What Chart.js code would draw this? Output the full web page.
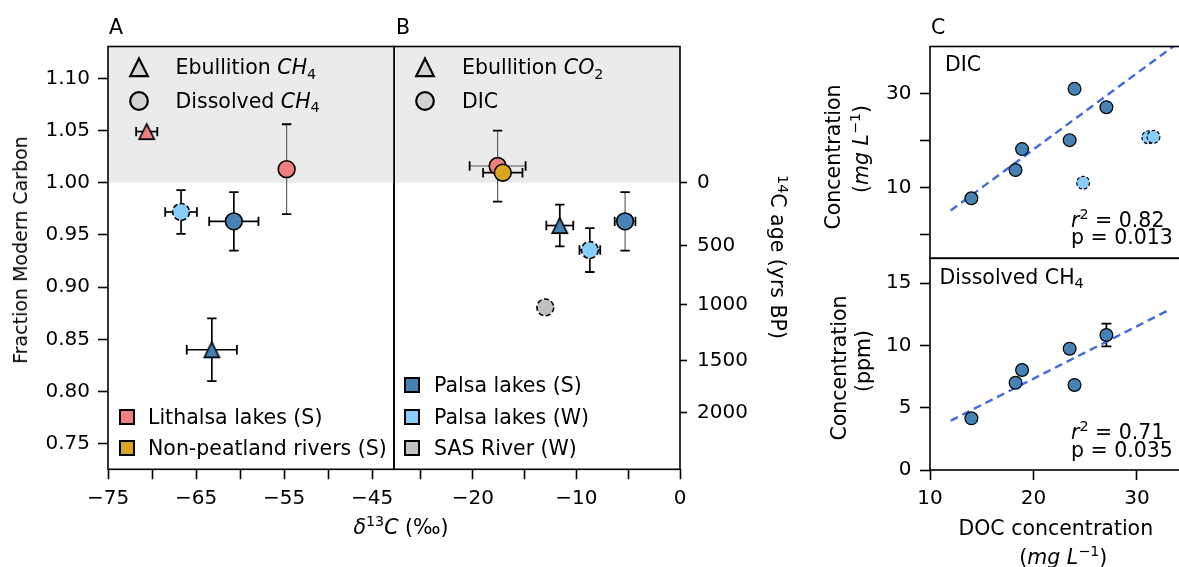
<!DOCTYPE html>
<html>
<head>
<meta charset="utf-8">
<script src="https://cdn.jsdelivr.net/npm/chart.js@4.4.1/dist/chart.umd.min.js"></script>
<style>
  html, body { margin: 0; padding: 0; background: #fff; overflow: hidden; }
  #fig { position: relative; width: 1179px; height: 567px; overflow: hidden; background: #fff;
         font-family: 'DejaVu Sans', sans-serif; color: #000; }
  #fig canvas { position: absolute; left: 0; top: 0; }
  #marks { position: absolute; left: 0; top: 0; }
  .t { position: absolute; white-space: nowrap; font-size: 20.5px; line-height: 24px; }
  .c { position: absolute; white-space: nowrap; font-size: 20.5px; line-height: 24px; transform: translate(-50%, -50%); }
  .up { transform: translate(-50%, -50%) rotate(-90deg); }
  .down { transform: translate(-50%, -50%) rotate(90deg); }
  sup { font-size: 70%; line-height: 0; vertical-align: 0; position: relative; top: -0.55em; font-style: normal; }
  sub { font-size: 70%; line-height: 0; vertical-align: 0; position: relative; top: 0.3em; font-style: normal; }
  .sq { position: absolute; width: 12px; height: 12px; border: 2px solid #000; }
</style>
</head>
<body>
<div id="fig">
  <!-- panel letters -->
  <div class="t" style="left:109px;top:15px">A</div>
  <div class="t" style="left:396px;top:15px">B</div>
  <div class="t" style="left:931px;top:15px">C</div>

  <!-- panel A legends -->
  <div class="t" style="left:175.5px;top:55.3px">Ebullition <i>CH</i><sub>4</sub></div>
  <div class="t" style="left:175.5px;top:89px">Dissolved <i>CH</i><sub>4</sub></div>
  <div class="sq" style="left:118.5px;top:408.7px;background:#f08080"></div>
  <div class="t" style="left:148px;top:404.7px">Lithalsa lakes (S)</div>
  <div class="sq" style="left:118.5px;top:440px;background:#daa520"></div>
  <div class="t" style="left:148px;top:436px">Non-peatland rivers (S)</div>

  <!-- panel B legends -->
  <div class="t" style="left:462px;top:55.3px">Ebullition <i>CO</i><sub>2</sub></div>
  <div class="t" style="left:462px;top:89px">DIC</div>
  <div class="sq" style="left:403.5px;top:377px;background:#4682b4"></div>
  <div class="t" style="left:434px;top:373px">Palsa lakes (S)</div>
  <div class="sq" style="left:403.5px;top:408.7px;background:#87cefa"></div>
  <div class="t" style="left:434px;top:404.7px">Palsa lakes (W)</div>
  <div class="sq" style="left:403.5px;top:440.3px;background:#c0c0c0"></div>
  <div class="t" style="left:434px;top:436.3px">SAS River (W)</div>

  <!-- axis titles, panels A/B -->
  <div class="c up" style="left:20px;top:250px;font-size:19px">Fraction Modern Carbon</div>
  <div class="c down" style="left:778px;top:257px"><sup style="top:-0.5em">14</sup>C age (yrs BP)</div>
  <div class="c" style="left:401px;top:527px"><i>δ</i><sup>13</sup><i>C</i> (‰)</div>

  <!-- panel C annotations -->
  <div class="t" style="left:945px;top:52px">DIC</div>
  <div class="t" style="left:939.5px;top:264.7px">Dissolved CH<sub>4</sub></div>
  <div class="t" style="left:1071px;top:208px"><i>r</i><sup>2</sup> = 0.82</div>
  <div class="t" style="left:1071px;top:225.3px">p = 0.013</div>
  <div class="t" style="left:1071px;top:419.7px"><i>r</i><sup>2</sup> = 0.71</div>
  <div class="t" style="left:1071px;top:437.7px">p = 0.035</div>

  <!-- axis titles, panel C -->
  <div class="c up" style="left:833.3px;top:156.7px">Concentration</div>
  <div class="c up" style="left:860.8px;top:149px">(<i>mg</i> <i>L</i><sup>−1</sup>)</div>
  <div class="c up" style="left:839.2px;top:368px">Concentration</div>
  <div class="c up" style="left:863.3px;top:361px">(ppm)</div>
  <div class="c" style="left:1055.8px;top:528px">DOC concentration</div>
  <div class="c" style="left:1063.3px;top:556.7px">(<i>mg</i> <i>L</i><sup>−1</sup>)</div>
</div>

<script>
// ---------------- data ----------------
// Radiocarbon content and δ13C of each carbon pool, one entry per site and pool
const isoSite = ['Lithalsa lakes (S)', 'Lithalsa lakes (S)', 'Palsa lakes (W)', 'Palsa lakes (S)', 'Palsa lakes (S)',
                 'Lithalsa lakes (S)', 'Non-peatland rivers (S)', 'Palsa lakes (S)', 'Palsa lakes (S)', 'Palsa lakes (W)', 'SAS River (W)'];
const isoPool = ['Ebullition CH4', 'Dissolved CH4', 'Dissolved CH4', 'Dissolved CH4', 'Ebullition CH4',
                 'DIC', 'DIC', 'Ebullition CO2', 'DIC', 'DIC', 'DIC'];
const d13C    = [-70.6, -54.7, -66.7, -60.7, -63.2, -17.6, -17.1, -11.6, -5.3, -8.7, -13.0];
const d13CErr = [1.2, 0, 1.8, 2.8, 2.85, 2.7, 1.9, 1.3, 1.0, 1.0, 0];
const fmc     = [1.049, 1.013, 0.972, 0.963, 0.840, 1.016, 1.0096, 0.959, 0.963, 0.9355, 0.8806];
const fmcErr  = [0, 0.043, 0.021, 0.028, 0.030, 0.034, 0, 0.020, 0.028, 0.021, 0];

// Tick values and labels
const aXTicks   = [-75, -70, -65, -60, -55, -50, -45];
const aXLabels  = ['−75', '', '−65', '', '−55', '', '−45'];
const bXTicks   = [-25, -20, -15, -10, -5, 0];
const bXLabels  = ['', '−20', '', '−10', '', '0'];
const fmcTicks  = [0.75, 0.80, 0.85, 0.90, 0.95, 1.00, 1.05, 1.10];
const fmcLabels = ['0.75', '0.80', '0.85', '0.90', '0.95', '1.00', '1.05', '1.10'];
const ageTicks  = [0, 500, 1000, 1500, 2000];

// Lake concentrations against DOC
const docS     = [14.0, 18.27, 18.9, 23.5, 23.97, 27.05];
const dicS     = [7.75, 13.76, 18.2, 20.1, 31.0, 27.1];
const docW     = [24.8, 31.1, 31.6];
const dicW     = [11.06, 20.7, 20.8];
const ch4S     = [4.15, 7.01, 8.03, 9.74, 6.83, 10.84];
const ch4SErr  = [0, 0, 0, 0, 0, 0.91];
const dicFitX  = [12.0, 34.3];
const dicFitY  = [5.15, 41.3];
const ch4FitX  = [12.0, 32.9];
const ch4FitY  = [3.96, 12.77];
const docTicks = [10, 20, 30];
const dicTicks = [0, 10, 20, 30];
const dicTickLabels = ['', '10', '', '30'];
const ch4Ticks = [0, 5, 10, 15];

// ---------------- styling ----------------
const siteFill = {
  'Lithalsa lakes (S)': '#f08080',
  'Non-peatland rivers (S)': '#daa520',
  'Palsa lakes (S)': '#4682b4',
  'Palsa lakes (W)': '#87cefa',
  'SAS River (W)': '#c0c0c0'
};
const thinBars = new Set(['Lithalsa lakes (S)|Dissolved CH4', 'Lithalsa lakes (S)|DIC', 'Palsa lakes (S)|DIC']);
const FONT = 'DejaVu Sans';
const TICK_SIZE = 20;
const FMC_MIN = 0.7255, FMC_MAX = 1.1305;
const TOP = 46.5, BOTTOM = 469.3;

Chart.defaults.font.family = FONT;
Chart.defaults.color = '#000';

function triangleMarker(fill, half, lw) {
  const s = Math.ceil(2 * half + 4 * lw) | 1;
  const c = document.createElement('canvas');
  c.width = s; c.height = s;
  const g = c.getContext('2d');
  const m = s / 2;
  g.beginPath();
  g.moveTo(m, m - half); g.lineTo(m + half, m + half); g.lineTo(m - half, m + half); g.closePath();
  g.fillStyle = fill; g.fill();
  g.lineWidth = lw; g.strokeStyle = '#000'; g.lineJoin = 'miter'; g.stroke();
  return c;
}

// linear axis with fixed tick list and a forced thickness so the plot area sits where wanted
function axis(position, min, max, tickVals, labels, thickness, o = {}) {
  return {
    type: 'linear', position, min, max,
    afterBuildTicks: s => { s.ticks = tickVals.map(v => ({ value: v })); },
    afterFit: s => { if (s.isHorizontal()) s.height = thickness; else s.width = thickness; },
    ticks: {
      display: !!labels, autoSkip: false, maxRotation: 0, minRotation: 0,
      padding: o.pad ?? 8, font: { family: FONT, size: TICK_SIZE }, color: '#000',
      callback: (v, i) => (labels ? labels[i] : '')
    },
    grid: { display: tickVals.length > 0, drawOnChartArea: false, drawTicks: true,
            tickLength: o.tick ?? 10, tickWidth: 1.6, tickColor: '#000' },
    border: { display: false }
  };
}

// ---------------- plugins ----------------
const shade = {
  id: 'shade',
  beforeDraw(chart, args, opts) {
    if (opts.above === undefined) return;
    const { ctx, chartArea: a } = chart;
    const y = chart.scales.y.getPixelForValue(opts.above);
    ctx.save();
    ctx.fillStyle = '#ebebeb';
    ctx.fillRect(a.left, a.top, a.right - a.left, y - a.top);
    ctx.restore();
  }
};

const errorBars = {
  id: 'errorBars',
  beforeDatasetsDraw(chart) {
    const ctx = chart.ctx, xs = chart.scales.x, ys = chart.scales.y;
    ctx.save();
    chart.data.datasets.forEach(ds => {
      const st = ds.errStyle;
      if (!st) return;
      ds.data.forEach(p => {
        const cx = xs.getPixelForValue(p.x), cy = ys.getPixelForValue(p.y);
        const bars = [];
        if (p.xErr) bars.push(['h', xs.getPixelForValue(p.x - p.xErr), cy, xs.getPixelForValue(p.x + p.xErr), cy]);
        if (p.yErr) bars.push(['v', cx, ys.getPixelForValue(p.y - p.yErr), cx, ys.getPixelForValue(p.y + p.yErr)]);
        bars.forEach(([dir, x1, y1, x2, y2]) => {
          ctx.strokeStyle = st.line; ctx.lineWidth = st.width;
          ctx.beginPath(); ctx.moveTo(x1, y1); ctx.lineTo(x2, y2); ctx.stroke();
          ctx.strokeStyle = '#000'; ctx.lineWidth = 1.8;
          const c = st.cap;
          ctx.beginPath();
          if (dir === 'h') {
            ctx.moveTo(x1, y1 - c); ctx.lineTo(x1, y1 + c);
            ctx.moveTo(x2, y2 - c); ctx.lineTo(x2, y2 + c);
          } else {
            ctx.moveTo(x1 - c, y1); ctx.lineTo(x1 + c, y1);
            ctx.moveTo(x2 - c, y2); ctx.lineTo(x2 + c, y2);
          }
          ctx.stroke();
        });
      });
    });
    ctx.restore();
  }
};

const edgeDash = {
  id: 'edgeDash',
  beforeDatasetDraw(chart, args) {
    const ds = chart.data.datasets[args.index];
    if (ds.dashedEdge) { chart.ctx.save(); chart.ctx.setLineDash(ds.dashedEdge); }
  },
  afterDatasetDraw(chart, args) {
    const ds = chart.data.datasets[args.index];
    if (ds.dashedEdge) chart.ctx.restore();
  }
};

const frame = {
  id: 'frame',
  afterDatasetsDraw(chart) {
    const { ctx, chartArea: a } = chart;
    ctx.save();
    ctx.strokeStyle = '#000'; ctx.lineWidth = 1.6;
    ctx.strokeRect(a.left, a.top, a.right - a.left, a.bottom - a.top);
    ctx.restore();
  }
};

// ---------------- helpers ----------------
const fig = document.getElementById('fig');
function newCanvas(w, h) {
  const c = document.createElement('canvas');
  c.width = w; c.height = h;
  c.style.width = w + 'px'; c.style.height = h + 'px';
  fig.insertBefore(c, fig.firstChild);
  return c;
}

function isotopeDatasets(keep) {
  const out = [];
  isoSite.forEach((site, i) => {
    if (!keep(isoPool[i])) return;
    const fill = siteFill[site];
    const ebullition = isoPool[i].startsWith('Ebullition');
    const thin = thinBars.has(site + '|' + isoPool[i]);
    out.push({
      label: site + ' – ' + isoPool[i],
      data: [{ x: d13C[i], y: fmc[i], xErr: d13CErr[i], yErr: fmcErr[i] }],
      pointStyle: ebullition ? triangleMarker(fill, 7.6, 1.6) : 'circle',
      pointRadius: 8.4,
      backgroundColor: fill,
      borderColor: '#000',
      borderWidth: 1.6,
      dashedEdge: site.endsWith('(W)') ? [5, 2.6] : null,
      errStyle: thin ? { line: '#555', width: 1.1, cap: 4.7 } : { line: '#000', width: 1.7, cap: 4.7 },
      order: -i
    });
  });
  return out;
}

const baseOpts = {
  responsive: false, animation: false, devicePixelRatio: 1,
  events: []
};

// ---------------- panel A: methane ----------------
new Chart(newCanvas(404, 567), {
  type: 'scatter',
  data: { datasets: isotopeDatasets(p => p.includes('CH4')) },
  options: {
    ...baseOpts,
    layout: { padding: { top: TOP, right: 10, left: 0, bottom: 0 } },
    plugins: { legend: { display: false }, tooltip: { enabled: false }, shade: { above: 1.0 } },
    scales: {
      x: axis('bottom', -75, -42.5, aXTicks, aXLabels, 567 - BOTTOM, { pad: 7 }),
      y: axis('left', FMC_MIN, FMC_MAX, fmcTicks, fmcLabels, 108, { pad: 8 })
    }
  },
  plugins: [shade, errorBars, edgeDash, frame]
});

// ---------------- panel B: DIC and CO2 ----------------
new Chart(newCanvas(800, 567), {
  type: 'scatter',
  data: { datasets: isotopeDatasets(p => !p.includes('CH4')) },
  options: {
    ...baseOpts,
    layout: { padding: { top: TOP, right: 0, left: 0, bottom: 0 } },
    plugins: { legend: { display: false }, tooltip: { enabled: false }, shade: { above: 1.0 } },
    scales: {
      x: axis('bottom', -27.6, 0, bXTicks, bXLabels, 567 - BOTTOM, { pad: 7 }),
      y: axis('left', FMC_MIN, FMC_MAX, [], null, 394),
      // conventional radiocarbon age: F = exp(-age / 8033)
      age: axis('right', FMC_MIN, FMC_MAX, ageTicks.map(a => Math.exp(-a / 8033)),
                ageTicks.map(String), 800 - 680, { tick: 7, pad: 10 })
    }
  },
  plugins: [shade, errorBars, edgeDash, frame]
});

// ---------------- panel C: concentrations vs DOC ----------------
const C_RIGHT_PAD = 1200 - 1181.4;
const fitLine = (xs, ys) => ({
  type: 'line',
  data: xs.map((x, i) => ({ x, y: ys[i] })),
  borderColor: '#4169e1', borderWidth: 2.4, borderDash: [8, 5],
  pointRadius: 0, showLine: true, fill: false, order: 10
});

new Chart(newCanvas(1200, 567), {
  type: 'scatter',
  data: {
    datasets: [
      fitLine(dicFitX, dicFitY),
      { data: docS.map((x, i) => ({ x, y: dicS[i] })), pointRadius: 6.4, borderWidth: 1.2,
        backgroundColor: '#4682b4', borderColor: '#000', order: 2 },
      { data: docW.map((x, i) => ({ x, y: dicW[i] })), pointRadius: 6.4, borderWidth: 1.2,
        backgroundColor: '#87cefa', borderColor: '#000', dashedEdge: [3.5, 2], order: 1 }
    ]
  },
  options: {
    ...baseOpts,
    layout: { padding: { top: TOP, right: C_RIGHT_PAD, left: 0, bottom: 0 } },
    plugins: { legend: { display: false }, tooltip: { enabled: false } },
    scales: {
      x: axis('bottom', 10, 34.3, [], null, 567 - 258.3),
      y: axis('left', -5, 40, dicTicks, dicTickLabels, 930, { pad: 8.5 })
    }
  },
  plugins: [errorBars, edgeDash, frame]
});

new Chart(newCanvas(1200, 567), {
  type: 'scatter',
  data: {
    datasets: [
      fitLine(ch4FitX, ch4FitY),
      { data: docS.map((x, i) => ({ x, y: ch4S[i], yErr: ch4SErr[i] })), pointRadius: 6.4, borderWidth: 1.2,
        backgroundColor: '#4682b4', borderColor: '#000', order: 2,
        errStyle: { line: '#000', width: 1.7, cap: 5 } }
    ]
  },
  options: {
    ...baseOpts,
    layout: { padding: { top: 258.3, right: C_RIGHT_PAD, left: 0, bottom: 0 } },
    plugins: { legend: { display: false }, tooltip: { enabled: false } },
    scales: {
      x: axis('bottom', 10, 34.3, docTicks, docTicks.map(String), 567 - 470, { pad: 7 }),
      y: axis('left', 0, 17, ch4Ticks, ch4Ticks.map(String), 930, { pad: 8.5 })
    }
  },
  plugins: [errorBars, edgeDash, frame]
});

// ---------------- legend marker glyphs ----------------
const NS = 'http://www.w3.org/2000/svg';
const svg = document.createElementNS(NS, 'svg');
svg.setAttribute('id', 'marks');
svg.setAttribute('width', 1179); svg.setAttribute('height', 567);
function legendGlyph(shape, cx, cy) {
  let el;
  if (shape === 'triangle') {
    el = document.createElementNS(NS, 'polygon');
    const h = 8.8;
    el.setAttribute('points', `${cx},${cy - h} ${cx + h},${cy + h} ${cx - h},${cy + h}`);
  } else {
    el = document.createElementNS(NS, 'circle');
    el.setAttribute('cx', cx); el.setAttribute('cy', cy); el.setAttribute('r', 8.8);
  }
  el.setAttribute('fill', '#d3d3d3'); el.setAttribute('stroke', '#000'); el.setAttribute('stroke-width', 2.2);
  svg.appendChild(el);
}
legendGlyph('triangle', 139, 67.3);
legendGlyph('circle', 139, 101);
legendGlyph('triangle', 425, 67.3);
legendGlyph('circle', 425, 101);
fig.appendChild(svg);
</script>
</body>
</html>
